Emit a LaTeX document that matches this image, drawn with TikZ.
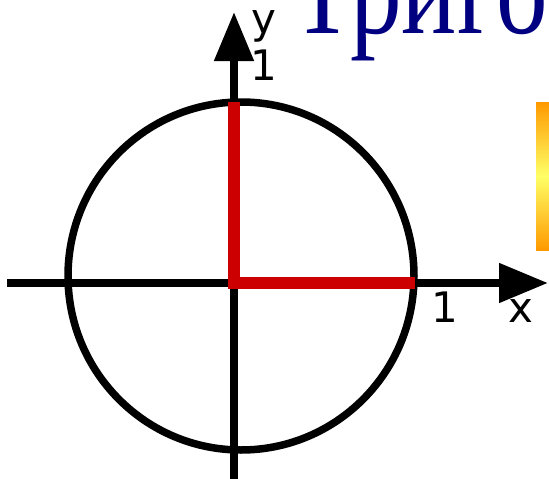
\documentclass[tikz,border=0pt]{standalone}
\usepackage{fontspec}
\setmainfont{Liberation Serif}
\newfontfamily\labelfont{DejaVu Sans}
\usetikzlibrary{arrows.meta}
\definecolor{axisred}{HTML}{CC0000}
\definecolor{titleblue}{HTML}{000080}
\definecolor{barorange}{HTML}{FF9900}
\definecolor{baryellow}{HTML}{FFFF66}
\begin{document}
\begin{tikzpicture}[x=1pt,y=-1pt,
  axisline/.style={line width=8pt,draw=black,-{Triangle[length=49pt,width=38pt]}},
  redline/.style={line width=12pt,draw=axisred},
  circleline/.style={line width=7.5pt,draw=black},
  lbl/.style={font=\labelfont\fontsize{42}{42}\selectfont,inner sep=0pt,anchor=base},
  title/.style={font=\fontsize{129}{129}\selectfont,text=titleblue,inner sep=0pt,anchor=base west}]
\useasboundingbox (0,0) rectangle (549,479);
% gradient bar
\shade[top color=barorange,bottom color=barorange,middle color=baryellow] (536,102) rectangle (552,250);
% title
\node[title] (title) at (291,33) {\scalebox{0.8}[1]{Триго}};
% circle
\coordinate (c) at (241,276);
\draw[circleline] (c) ellipse [x radius=173,y radius=174];
% axes
\coordinate (xs) at (7,283);
\coordinate (xe) at (548,283);
\coordinate (ys) at (234,482);
\coordinate (ye) at (234,12);
\draw[axisline] (xs) -- (xe);
\draw[axisline] (ys) -- (ye);
% red radii
\coordinate (o) at (234,283);
\coordinate (top) at (234,102);
\coordinate (right) at (415,283);
\draw[redline] (top) -- (234,277) ;
\draw[redline] (228,283) -- (right);
% labels
\node[lbl] (ylab) at (264,33) {y};
\node[lbl] (yone) at (264,80) {1};
\node[lbl] (xone) at (445,322) {1};
\node[lbl] (xlab) at (521,322) {x};
\end{tikzpicture}
\end{document}
